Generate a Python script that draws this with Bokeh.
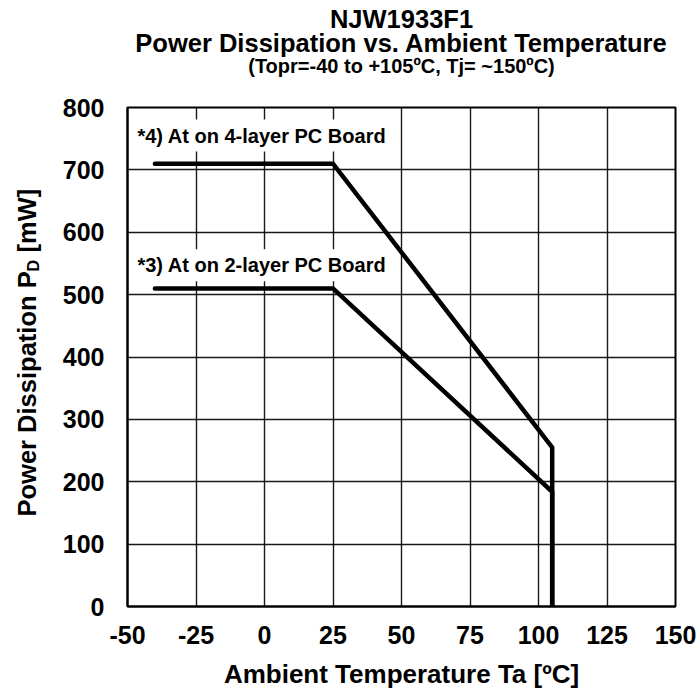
import math
from bokeh.plotting import figure
from bokeh.models import Range1d, FixedTicker, Label
from bokeh.core.properties import value
from bokeh.layouts import column, row
from bokeh.embed import file_html
from bokeh.resources import INLINE

# ---- data ----
temp_4layer = [-40, 25, 105, 105]
pd_4layer = [710, 710, 255, 0]
temp_2layer = [-40, 25, 105, 105]
pd_2layer = [510, 510, 184, 0]
x_ticks = [-50, -25, 0, 25, 50, 75, 100, 125, 150]
y_ticks = [0, 100, 200, 300, 400, 500, 600, 700, 800]
label_4layer = "*4) At on 4-layer PC Board"
label_2layer = "*3) At on 2-layer PC Board"
title_lines = ["NJW1933F1", "Power Dissipation vs. Ambient Temperature",
               "(Topr=-40 to +105\u00baC, Tj= ~150\u00baC)"]
x_label = "Ambient Temperature Ta [\u00baC]"
y_label_parts = ["Power Dissipation P", "D", "[mW]"]

FONT = "Liberation Sans"


def blank_fig(w, h, yr=None):
    f = figure(width=w, height=h, output_backend="svg", toolbar_location=None,
               x_range=Range1d(0, w), y_range=Range1d(0, yr if yr else h),
               x_axis_type=None, y_axis_type=None, min_border=0)
    f.outline_line_color = None
    f.background_fill_color = "white"
    f.border_fill_color = "white"
    return f


# ---- title strip ----
tf = blank_fig(700, 90)
for txt, yy, fs in ((title_lines[0], 72, "25.5px"), (title_lines[1], 48, "25.5px"),
                    (title_lines[2], 25, "20px")):
    tf.add_layout(Label(x=401, y=yy, text=txt, text_font=FONT, text_font_style="bold",
                        text_font_size=fs, text_align="center", text_baseline="middle",
                        text_color="black"))

# ---- y label strip (its frame is aligned with the chart frame, 499px tall) ----
yf = blank_fig(50, 606, yr=499)
ang = math.pi / 2
for txt, xx, yy, fs in ((y_label_parts[0], 26, 90, "25.5px"),
                        (y_label_parts[1], 33, 335, "16px"),
                        (y_label_parts[2], 26, 354, "25.5px")):
    yf.text(x=[xx], y=[yy], text=[txt], angle=ang, text_font=value(FONT),
            text_font_style="bold", text_font_size=value(fs), text_color="black",
            text_align="left", text_baseline="middle")

# ---- main chart ----
p = figure(width=650, height=606, output_backend="svg", toolbar_location=None,
           x_range=Range1d(-50, 150), y_range=Range1d(0, 800),
           min_border_left=77, min_border_right=25, min_border_top=17,
           min_border_bottom=90)
p.background_fill_color = "white"
p.border_fill_color = "white"
p.outline_line_color = "black"
p.outline_line_width = 2

for ax in (p.xaxis[0], p.yaxis[0]):
    ax.major_tick_in = 0
    ax.major_tick_out = 0
    ax.minor_tick_line_color = None
    ax.axis_line_color = "black"
    ax.axis_line_width = 2
    ax.major_label_text_font = FONT
    ax.major_label_text_font_style = "bold"
    ax.major_label_text_font_size = "25px"
    ax.major_label_text_color = "black"

p.xaxis.ticker = FixedTicker(ticks=x_ticks)
p.yaxis.ticker = FixedTicker(ticks=y_ticks)
p.xaxis.major_label_overrides = {t: str(t) for t in x_ticks}
p.xaxis.major_label_standoff = 19
p.yaxis.major_label_standoff = 23
p.xaxis.axis_label = x_label
p.xaxis.axis_label_text_font = FONT
p.xaxis.axis_label_text_font_style = "bold"
p.xaxis.axis_label_text_font_size = "26px"
p.xaxis.axis_label_text_color = "black"
p.xaxis.axis_label_standoff = 12

p.xgrid.ticker = FixedTicker(ticks=x_ticks[1:-1])
p.ygrid.ticker = FixedTicker(ticks=y_ticks[1:-1])
for g in (p.xgrid[0], p.ygrid[0]):
    g.grid_line_color = "black"
    g.grid_line_width = 1.4
    g.grid_line_alpha = 0.9

for txt, yy in ((label_4layer, 755), (label_2layer, 547)):
    p.add_layout(Label(x=-48.2, y=yy, text=txt, text_font=FONT, text_font_style="bold",
                       text_font_size="20px", text_baseline="middle", text_align="left",
                       text_color="black", background_fill_color="white", padding=5))

p.line(temp_4layer, pd_4layer, line_width=4.5, line_color="black",
       line_cap="round", line_join="miter")
p.line(temp_2layer, pd_2layer, line_width=4.5, line_color="black",
       line_cap="round", line_join="miter")

layout = column(tf, row(yf, p))
open("out.html", "w").write(file_html(layout, INLINE))
